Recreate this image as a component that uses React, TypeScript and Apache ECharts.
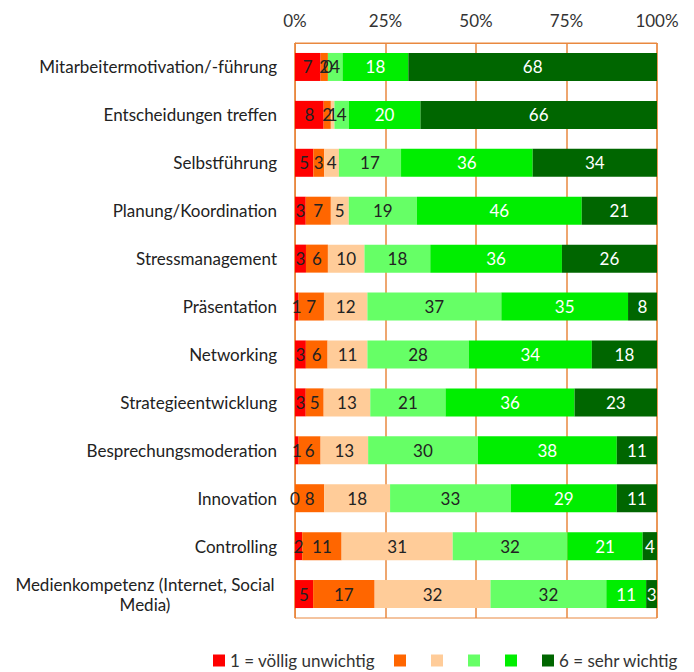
import React, { useEffect, useRef } from "react";
import * as echarts from "echarts";

const categories = [
  "Mitarbeitermotivation/-führung",
  "Entscheidungen treffen",
  "Selbstführung",
  "Planung/Koordination",
  "Stressmanagement",
  "Präsentation",
  "Networking",
  "Strategieentwicklung",
  "Besprechungsmoderation",
  "Innovation",
  "Controlling",
  "Medienkompetenz (Internet, Social Media)",
];

const seriesNames = ["1 = völlig unwichtig", "2", "3", "4", "5", "6 = sehr wichtig"];
const r1 = [7, 8, 5, 3, 3, 1, 3, 3, 1, 0, 2, 5];
const r2 = [2, 2, 3, 7, 6, 7, 6, 5, 6, 8, 11, 17];
const r3 = [0, 1, 4, 5, 10, 12, 11, 13, 13, 18, 31, 32];
const r4 = [4, 4, 17, 19, 18, 37, 28, 21, 30, 33, 32, 32];
const r5 = [18, 20, 36, 46, 36, 35, 34, 36, 38, 29, 21, 11];
const r6 = [68, 66, 34, 21, 26, 8, 18, 23, 11, 11, 4, 3];
const tickLabels = ["0%", "25%", "50%", "75%", "100%"];

const colors = ["#FF0000", "#FF6600", "#FFCC99", "#66FF66", "#00EE00", "#006600"];
const labelColors = ["#222", "#222", "#222", "#222", "#fff", "#fff"];

export default function App() {
  const ref = useRef<HTMLDivElement>(null);
  useEffect(() => {
    const chart = echarts.init(ref.current!, undefined, { renderer: "svg" });
    const rows = [r1, r2, r3, r4, r5, r6];
    const totals = categories.map((_, i) => rows.reduce((s, r) => s + r[i], 0));
    const font = "Lato, 'Open Sans', sans-serif";
    const legendBase = {
      top: 652,
      padding: 0,
      itemWidth: 12,
      itemHeight: 12,
      itemGap: 25,
      icon: "rect",
      formatter: (n: string) => (n.length > 1 ? n : ""),
      textStyle: { fontSize: 17, color: "#333", fontFamily: font },
    };
    chart.setOption({
      animation: false,
      textStyle: { fontFamily: font },
      grid: {
        left: 295,
        right: 37,
        top: 43,
        bottom: 54,
        show: true,
        borderColor: "#E9883F",
        borderWidth: 1,
      },
      legend: [
        { ...legendBase, left: 213, data: seriesNames.slice(0, 1) },
        { ...legendBase, left: 394, data: seriesNames.slice(1) },
      ],
      xAxis: {
        type: "value",
        position: "top",
        min: 0,
        max: 100,
        interval: 25,
        axisLine: { show: true, lineStyle: { color: "#E9883F" } },
        axisTick: { show: false },
        splitLine: { show: true, lineStyle: { color: "#E9883F", width: 1.5 } },
        axisLabel: {
          fontSize: 17,
          color: "#333",
          margin: 14,
          formatter: (v: number) => tickLabels[Math.round(v / 25)],
        },
      },
      yAxis: {
        type: "category",
        inverse: true,
        data: categories,
        axisLine: { show: true, lineStyle: { color: "#E9883F" } },
        axisTick: { show: false },
        axisLabel: {
          fontSize: 17,
          color: "#222",
          margin: 18,
          formatter: (v: string) =>
            v.startsWith("Medien")
              ? "{m|Medienkompetenz (Internet, Social}\n{m|Media)}"
              : v,
          rich: {
            m: { width: 264, align: "center", fontSize: 17, color: "#222", lineHeight: 20 },
          },
        },
      },
      series: rows.map((r, si) => ({
        name: seriesNames[si],
        type: "bar",
        stack: "total",
        barWidth: 28,
        itemStyle: { color: colors[si] },
        data: r.map((v, i) => (v / totals[i]) * 100),
        label: {
          show: true,
          position: "inside",
          fontSize: 17,
          color: labelColors[si],
          fontFamily: font,
          formatter: (p: any) => String(r[p.dataIndex]),
        },
      })),
    });
    return () => chart.dispose();
  }, []);
  return (
    <div
      ref={ref}
      style={{ position: "absolute", left: 0, top: 0, width: 694, height: 672 }}
    />
  );
}
